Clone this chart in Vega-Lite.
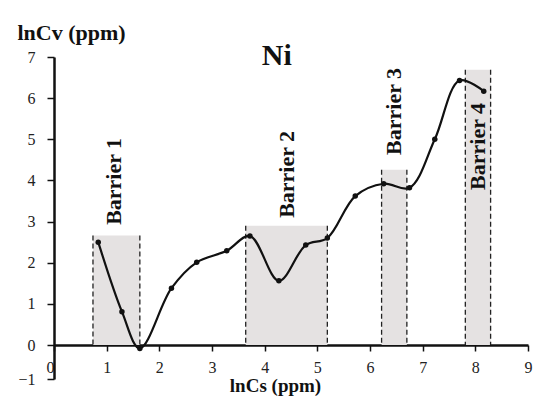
{
  "$schema": "https://vega.github.io/schema/vega-lite/v6.json",
  "width": 474,
  "height": 322,
  "autosize": "none",
  "padding": {"left": 54, "top": 57, "right": 5, "bottom": 20},
  "background": "white",
  "config": {
    "view": {"stroke": null},
    "font": "Liberation Serif"
  },
  "datasets": {
    "barriers": [
      {"name": "Barrier 1", "x0": 0.74, "x1": 1.63, "top": 2.66, "lx": 1.13, "ly": 2.92},
      {"name": "Barrier 2", "x0": 3.64, "x1": 5.19, "top": 2.9, "lx": 4.42, "ly": 3.09},
      {"name": "Barrier 3", "x0": 6.22, "x1": 6.7, "top": 4.26, "lx": 6.46, "ly": 4.62},
      {"name": "Barrier 4", "x0": 7.81, "x1": 8.29, "top": 6.69, "lx": 8.06, "ly": 3.77}
    ],
    "title": [
      {"label": "Ni", "x": 4.23, "y": 6.8}
    ],
    "ni": [
      {"lnCs": 0.84, "lnCv": 2.5},
      {"lnCs": 1.29, "lnCv": 0.81},
      {"lnCs": 1.63, "lnCv": -0.1},
      {"lnCs": 2.23, "lnCv": 1.38},
      {"lnCs": 2.71, "lnCv": 2.01},
      {"lnCs": 3.28, "lnCv": 2.29},
      {"lnCs": 3.72, "lnCv": 2.65},
      {"lnCs": 4.27, "lnCv": 1.56},
      {"lnCs": 4.78, "lnCv": 2.43},
      {"lnCs": 5.19, "lnCv": 2.6},
      {"lnCs": 5.72, "lnCv": 3.62},
      {"lnCs": 6.26, "lnCv": 3.92},
      {"lnCs": 6.75, "lnCv": 3.82},
      {"lnCs": 7.23, "lnCv": 5.0},
      {"lnCs": 7.7, "lnCv": 6.43},
      {"lnCs": 8.16, "lnCv": 6.17}
    ]
  },
  "layer": [
    {
      "data": {"name": "barriers"},
      "mark": {"type": "rect", "fill": "#e5e2e2"},
      "encoding": {
        "x": {
          "field": "x0", "type": "quantitative",
          "scale": {"domain": [0, 9], "nice": false, "zero": false},
          "axis": {
            "title": "lnCs (ppm)",
            "titleFont": "Liberation Serif",
            "titleFontSize": 19,
            "titleFontWeight": "bold",
            "titleColor": "#111",
            "titleX": 221,
            "titleY": 46,
            "titleAlign": "center",
            "titleBaseline": "alphabetic",
            "values": [0, 1, 2, 3, 4, 5, 6, 7, 8, 9],
            "labelAlign": {"condition": {"test": "datum.value == 0", "value": "right"}, "value": "center"},
            "offset": -34,
            "grid": false,
            "domainColor": "#111",
            "domainWidth": 2.5,
            "tickColor": "#111",
            "tickWidth": 1.5,
            "tickSize": 6,
            "labelFont": "Liberation Serif",
            "labelFontSize": 16,
            "labelColor": "#222",
            "labelPadding": 8,
            "labelFlush": false
          }
        },
        "x2": {"field": "x1"},
        "y": {
          "field": "top", "type": "quantitative",
          "scale": {"domain": [-1, 0, 7], "range": [322, 288, 0], "nice": false, "zero": false},
          "axis": {
            "title": "lnCv (ppm)",
            "titleFont": "Liberation Serif",
            "titleFontSize": 22,
            "titleFontWeight": "bold",
            "titleColor": "#111",
            "titleAngle": 0,
            "titleX": -37,
            "titleY": -18,
            "titleAlign": "left",
            "titleBaseline": "alphabetic",
            "values": [-1, 0, 1, 2, 3, 4, 5, 6, 7],
            "grid": false,
            "domainColor": "#111",
            "domainWidth": 2.5,
            "tickColor": "#111",
            "tickWidth": 1.5,
            "tickSize": 7,
            "labelFont": "Liberation Serif",
            "labelFontSize": 16,
            "labelColor": "#222",
            "labelPadding": 12,
            "labelFlush": false
          }
        },
        "y2": {"datum": 0}
      }
    },
    {
      "data": {"name": "barriers"},
      "mark": {"type": "rule", "color": "#222", "strokeWidth": 1.3, "strokeDash": [5, 3]},
      "encoding": {
        "x": {"field": "x0", "type": "quantitative"},
        "y": {"field": "top", "type": "quantitative"},
        "y2": {"datum": 0}
      }
    },
    {
      "data": {"name": "barriers"},
      "mark": {"type": "rule", "color": "#222", "strokeWidth": 1.3, "strokeDash": [5, 3]},
      "encoding": {
        "x": {"field": "x1", "type": "quantitative"},
        "y": {"field": "top", "type": "quantitative"},
        "y2": {"datum": 0}
      }
    },
    {
      "data": {"name": "barriers"},
      "mark": {"type": "text", "angle": 270, "align": "left", "baseline": "middle", "font": "Liberation Serif", "fontSize": 22, "fontWeight": "bold", "color": "#111"},
      "encoding": {
        "x": {"field": "lx", "type": "quantitative"},
        "y": {"field": "ly", "type": "quantitative"},
        "text": {"field": "name"}
      }
    },
    {
      "data": {"name": "title"},
      "mark": {"type": "text", "align": "center", "baseline": "alphabetic", "font": "Liberation Serif", "fontSize": 30, "fontWeight": "bold", "color": "#111"},
      "encoding": {
        "x": {"field": "x", "type": "quantitative"},
        "y": {"field": "y", "type": "quantitative"},
        "text": {"field": "label"}
      }
    },
    {
      "data": {"name": "ni"},
      "mark": {"type": "line", "interpolate": "catmull-rom", "color": "#111", "strokeWidth": 2.2},
      "encoding": {
        "x": {"field": "lnCs", "type": "quantitative"},
        "y": {"field": "lnCv", "type": "quantitative"}
      }
    },
    {
      "data": {"name": "ni"},
      "mark": {"type": "point", "filled": true, "color": "#111", "size": 30, "opacity": 1},
      "encoding": {
        "x": {"field": "lnCs", "type": "quantitative"},
        "y": {"field": "lnCv", "type": "quantitative"}
      }
    }
  ]
}
